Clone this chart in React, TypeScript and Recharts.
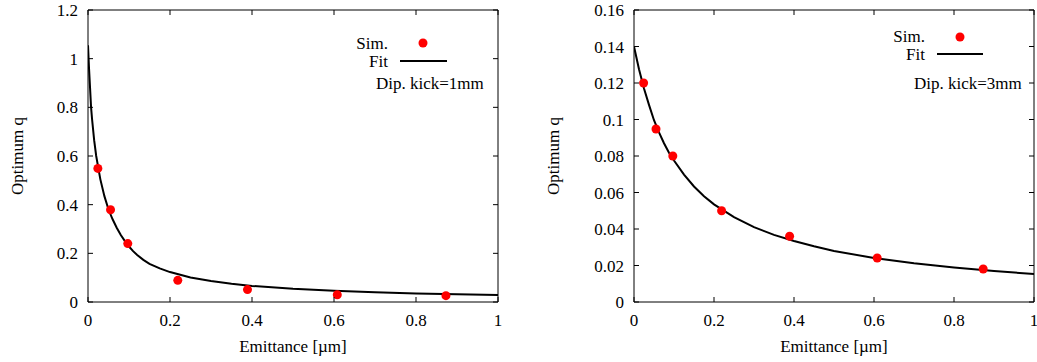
import { ScatterChart, Scatter, XAxis, YAxis, ReferenceArea, Legend } from 'recharts';

const FONT = "'Liberation Serif', 'DejaVu Serif', serif";
const FS = 17;
const H = 362;
const txt = { fontFamily: FONT, fontSize: FS, fill: '#000' };

const xTicks = [0, 0.2, 0.4, 0.6, 0.8, 1];
const xTickLabels = ['0', '0.2', '0.4', '0.6', '0.8', '1'];

const leftYTicks = [0, 0.2, 0.4, 0.6, 0.8, 1, 1.2];
const leftYTickLabels = ['0', '0.2', '0.4', '0.6', '0.8', '1', '1.2'];
const rightYTicks = [0, 0.02, 0.04, 0.06, 0.08, 0.1, 0.12, 0.14, 0.16];
const rightYTickLabels = ['0', '0.02', '0.04', '0.06', '0.08', '0.1', '0.12', '0.14', '0.16'];

// simulation points (emittance in um, optimum q)
const simEmit = [0.024, 0.055, 0.097, 0.219, 0.389, 0.608, 0.873];
const sim1mm = [0.549, 0.379, 0.240, 0.089, 0.051, 0.030, 0.026];
const sim3mm = [0.120, 0.0948, 0.080, 0.050, 0.036, 0.0241, 0.0181];

// fit curves
const fit1mmX = [0, 0.0025, 0.005, 0.0075, 0.01, 0.015, 0.02, 0.03, 0.04, 0.05, 0.06, 0.07, 0.08, 0.09, 0.1, 0.11, 0.12, 0.135, 0.15, 0.175, 0.2, 0.25, 0.3, 0.35, 0.4, 0.5, 0.6, 0.7, 0.8, 0.9, 1];
const fit1mmY = [1.055, 0.96, 0.88, 0.80, 0.75, 0.665, 0.60, 0.505, 0.435, 0.38, 0.34, 0.305, 0.275, 0.25, 0.228, 0.209, 0.193, 0.173, 0.157, 0.138, 0.123, 0.101, 0.086, 0.075, 0.066, 0.054, 0.046, 0.040, 0.035, 0.032, 0.029];
const fit3mmX = [0, 0.0125, 0.025, 0.0375, 0.05, 0.0625, 0.075, 0.0875, 0.1, 0.125, 0.15, 0.175, 0.2, 0.25, 0.3, 0.35, 0.4, 0.45, 0.5, 0.6, 0.7, 0.8, 0.9, 1];
const fit3mmY = [0.140, 0.1275, 0.117, 0.108, 0.0996, 0.0929, 0.087, 0.0818, 0.0775, 0.0698, 0.0633, 0.058, 0.0535, 0.0465, 0.041, 0.0368, 0.0334, 0.0305, 0.028, 0.0241, 0.0212, 0.0189, 0.017, 0.0153];

const zip = (xs: number[], ys: number[]) => xs.map((x, i) => ({ x, y: ys[i] }));

interface PanelProps {
  width: number;
  plotLeft: number;
  plotRight: number;
  yMax: number;
  yTicks: number[];
  yTickLabels: string[];
  sim: { x: number; y: number }[];
  fit: { x: number; y: number }[];
  yLabelX: number;
  legend: { textEnd: number; simY: number; fitY: number; dotX: number; dotY: number; lineX1: number; lineX2: number; lineY: number; noteX: number; noteY: number; note: string };
}

const PT = 10;
const PB = 302;
const TICK = 5;

function Panel(p: PanelProps) {
  const { width, plotLeft, plotRight, legend } = p;

  const XTick = (props: any) => {
    const i = xTicks.indexOf(props.payload.value);
    return (
      <g>
        <line x1={props.x} x2={props.x} y1={PB} y2={PB - TICK} stroke="#000" />
        <line x1={props.x} x2={props.x} y1={PT} y2={PT + TICK} stroke="#000" />
        <text x={props.x} y={PB + 24} textAnchor="middle" style={txt}>
          {xTickLabels[i] ?? String(props.payload.value)}
        </text>
      </g>
    );
  };

  const YTick = (props: any) => {
    const i = p.yTicks.indexOf(props.payload.value);
    return (
      <g>
        <line x1={plotLeft} x2={plotLeft + TICK} y1={props.y} y2={props.y} stroke="#000" />
        <line x1={plotRight} x2={plotRight - TICK} y1={props.y} y2={props.y} stroke="#000" />
        <text x={plotLeft - 10} y={props.y} dy="0.36em" textAnchor="end" style={txt}>
          {p.yTickLabels[i] ?? String(props.payload.value)}
        </text>
      </g>
    );
  };

  return (
    <ScatterChart
      width={width}
      height={H}
      margin={{ top: PT, right: width - plotRight, bottom: H - PB - 1, left: plotLeft - 1 }}
    >
      <XAxis
        type="number"
        dataKey="x"
        domain={[0, 1]}
        ticks={xTicks}
        interval={0}
        height={1}
        axisLine={false}
        tickLine={false}
        tick={XTick}
        allowDataOverflow
        label={{
          content: () => (
            <text x={(plotLeft + plotRight) / 2} y={352} textAnchor="middle" style={txt}>
              Emittance [µm]
            </text>
          ),
        }}
      />
      <YAxis
        type="number"
        dataKey="y"
        domain={[0, p.yMax]}
        ticks={p.yTicks}
        interval={0}
        width={1}
        axisLine={false}
        tickLine={false}
        tick={YTick}
        allowDataOverflow
        label={{
          content: () => (
            <text
              x={p.yLabelX}
              y={(PT + PB) / 2}
              textAnchor="middle"
              dominantBaseline="central"
              transform={`rotate(-90 ${p.yLabelX} ${(PT + PB) / 2})`}
              style={txt}
            >
              Optimum q
            </text>
          ),
        }}
      />
      <ReferenceArea x1={0} x2={1} y1={0} y2={p.yMax} fill="none" stroke="#000" strokeWidth={1} ifOverflow="visible" />
      <Scatter
        data={p.fit}
        line={{ stroke: '#000', strokeWidth: 2 }}
        lineType="joint"
        shape={() => <g />}
        isAnimationActive={false}
      />
      <Scatter
        data={p.sim}
        fill="#ff0000"
        shape={(s: any) => <circle cx={s.cx} cy={s.cy} r={4.5} fill="#ff0000" />}
        isAnimationActive={false}
      />
      <Legend
        layout="vertical"
        align="center"
        verticalAlign="middle"
        wrapperStyle={{ position: 'absolute', left: 0, top: 0, width, height: 100, pointerEvents: 'none' }}
        content={() => (
          <svg width={width} height={100} style={{ display: 'block' }}>
            <text x={legend.textEnd} y={legend.simY} textAnchor="end" style={txt}>Sim.</text>
            <circle cx={legend.dotX} cy={legend.dotY} r={4.5} fill="#ff0000" />
            <text x={legend.textEnd} y={legend.fitY} textAnchor="end" style={txt}>Fit</text>
            <line x1={legend.lineX1} x2={legend.lineX2} y1={legend.lineY} y2={legend.lineY} stroke="#000" strokeWidth={2} />
            <text x={legend.noteX} y={legend.noteY} style={txt}>{legend.note}</text>
          </svg>
        )}
      />
    </ScatterChart>
  );
}

export default function App() {
  return (
    <div style={{ position: 'absolute', left: 0, top: 0, width: 1037, height: H, background: '#fff' }}>
      <div style={{ position: 'absolute', left: 0, top: 0 }}>
        <Panel
          width={518}
          plotLeft={88}
          plotRight={498}
          yMax={1.2}
          yTicks={leftYTicks}
          yTickLabels={leftYTickLabels}
          sim={zip(simEmit, sim1mm)}
          fit={zip(fit1mmX, fit1mmY)}
          yLabelX={17}
          legend={{ textEnd: 388, simY: 49, fitY: 67, dotX: 423, dotY: 43, lineX1: 400, lineX2: 447, lineY: 61, noteX: 376, noteY: 89, note: 'Dip. kick=1mm' }}
        />
      </div>
      <div style={{ position: 'absolute', left: 518, top: 0 }}>
        <Panel
          width={519}
          plotLeft={116}
          plotRight={516}
          yMax={0.16}
          yTicks={rightYTicks}
          yTickLabels={rightYTickLabels}
          sim={zip(simEmit, sim3mm)}
          fit={zip(fit3mmX, fit3mmY)}
          yLabelX={35}
          legend={{ textEnd: 407, simY: 42, fitY: 60, dotX: 442, dotY: 37, lineX1: 419, lineX2: 465, lineY: 54, noteX: 396, noteY: 89, note: 'Dip. kick=3mm' }}
        />
      </div>
    </div>
  );
}
